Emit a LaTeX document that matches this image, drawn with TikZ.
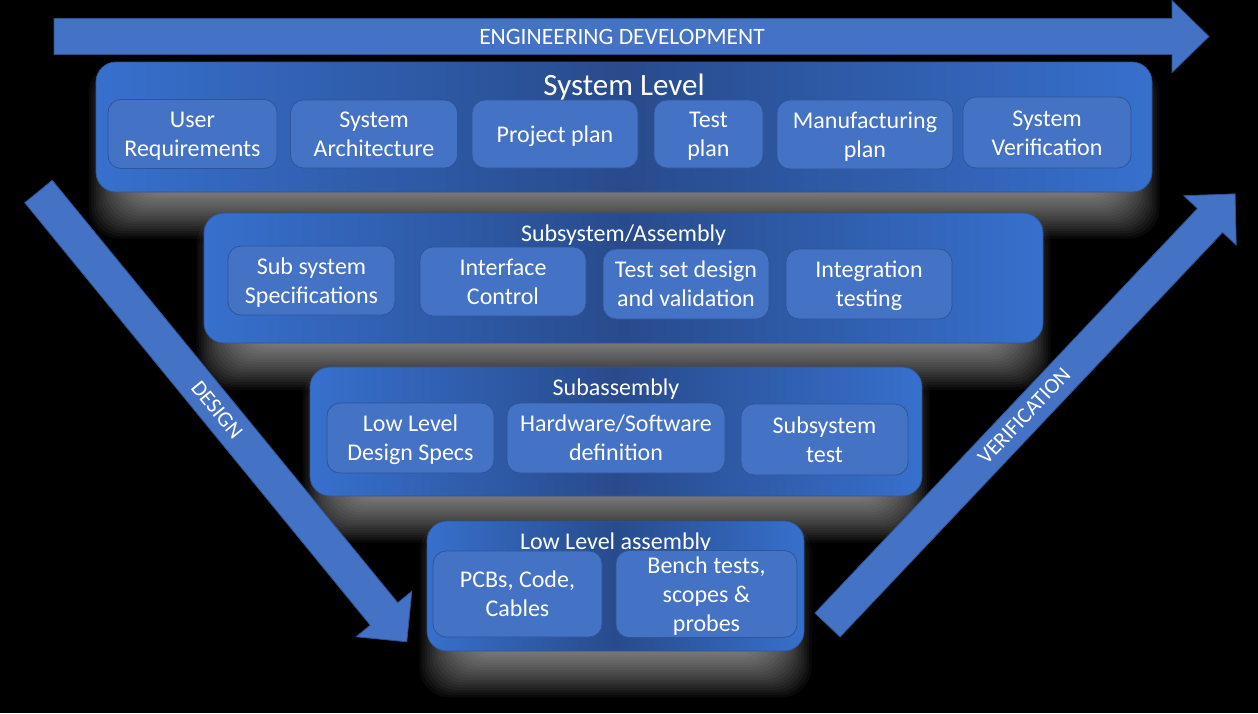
\documentclass[tikz,border=0pt]{standalone}
\usepackage{fontspec}
\setmainfont{Carlito}
\definecolor{arrowblue}{HTML}{4472C4}
\definecolor{arrowedge}{HTML}{2F528F}
\definecolor{paneledge}{HTML}{3770CD}
\definecolor{panelmid}{HTML}{284B8C}
\definecolor{boxfill}{HTML}{4472C4}
\definecolor{boxedge}{HTML}{2F5597}
\tikzset{
  panel/.style={rectangle, rounded corners=20pt, draw=boxedge, line width=0.8pt,
    left color=paneledge, right color=paneledge, middle color=panelmid, inner sep=0pt},
  itembox/.style={rectangle, rounded corners=13pt, draw=boxedge, line width=0.8pt,
    fill=boxfill, text=white, inner sep=0pt,
    font=\fontsize{24}{29}\selectfont},
  paneltitle/.style={text=white, anchor=base, inner sep=0pt},
  bigarrow/.style={fill=arrowblue, draw=arrowedge, line width=0.8pt, line join=miter},
  arrowlabel/.style={text=white, inner sep=0pt, font=\fontsize{22}{26}\selectfont},
  glowlayer/.style={fill=white, fill opacity=0.036, rounded corners=30pt},
}
\newcommand\itemtext[1]{\raisebox{-2.5pt}[\height][\depth]{\begin{tabular}{@{}c@{}}#1\end{tabular}}}
\newcommand\panelglow[4]{%
  \foreach \k in {0,...,19}{%
    \fill[glowlayer] (#1+40-2.5*\k, #2+49-2.5*\k) rectangle (#3-40+2.5*\k, #4-1+2.5*\k);
  }}
\begin{document}
\begin{tikzpicture}[x=1pt, y=-1pt]
\useasboundingbox (0,0) rectangle (1258,713);
\fill[black] (0,0) rectangle (1258,713);

% glow behind panels
\panelglow{96}{62}{1152}{192}
\panelglow{204}{213}{1043}{343}
\panelglow{310}{367}{922}{496}
\panelglow{427}{521}{804}{651}

% top arrow
\draw[bigarrow] (54,18.5) -- (1172,18.5) -- (1172,0.5) -- (1209,36.5) -- (1172,72.5)
  -- (1172,54.5) -- (54,54.5) -- cycle;
\node[arrowlabel, font=\fontsize{23.5}{27}\selectfont, anchor=base] (engdev) at (622,44.5) {ENGINEERING DEVELOPMENT};

% panels
\node[panel, minimum width=1056pt, minimum height=130pt] (sys) at (624,127) {};
\node[panel, minimum width=839pt, minimum height=130pt] (sub) at (623.5,278) {};
\node[panel, minimum width=612pt, minimum height=129pt] (suba) at (616,431.5) {};
\node[panel, minimum width=377pt, minimum height=130pt] (low) at (615.5,586) {};

% titles
\node[paneltitle, font=\fontsize{31}{36}\selectfont] (systitle) at (624,95) {System Level};
\node[paneltitle, font=\fontsize{24}{29}\selectfont] (subtitle) at (623.5,241) {Subsystem/Assembly};
\node[paneltitle, font=\fontsize{24}{29}\selectfont] (subatitle) at (616,395) {Subassembly};
\node[paneltitle, font=\fontsize{24}{29}\selectfont] (lowtitle) at (615.5,549) {Low Level assembly};

% system level items
\node[itembox, minimum width=169pt, minimum height=69pt] (ur) at (192.5,134) {\itemtext{User\\Requirements}};
\node[itembox, minimum width=167pt, minimum height=68pt] (sa) at (374,134) {\itemtext{System\\Architecture}};
\node[itembox, minimum width=166pt, minimum height=68pt] (pp) at (555,134) {\itemtext{Project plan}};
\node[itembox, minimum width=109pt, minimum height=68pt] (tp) at (708.5,134) {\itemtext{Test\\plan}};
\node[itembox, minimum width=176pt, minimum height=69pt] (mp) at (865,134.5) {\itemtext{Manufacturing\\plan}};
\node[itembox, minimum width=168pt, minimum height=71pt] (sv) at (1047,132.5) {\itemtext{System\\Verification}};

% subsystem items
\node[itembox, minimum width=167pt, minimum height=69pt] (ss) at (311.5,280.5) {\itemtext{Sub system\\Specifications}};
\node[itembox, minimum width=166pt, minimum height=69pt] (ic) at (503,281.5) {\itemtext{Interface\\Control}};
\node[itembox, minimum width=166pt, minimum height=70pt] (ts) at (686,284) {\itemtext{Test set design\\and validation}};
\node[itembox, minimum width=166pt, minimum height=70pt] (it) at (869,284) {\itemtext{Integration\\testing}};

% subassembly items
\node[itembox, minimum width=167pt, minimum height=70pt] (ll) at (410.5,438) {\itemtext{Low Level\\Design Specs}};
\node[itembox, minimum width=218pt, minimum height=70pt] (hw) at (616,438) {\itemtext{Hardware/Software\\definition}};
\node[itembox, minimum width=167pt, minimum height=71pt] (st) at (824.5,439.5) {\itemtext{Subsystem\\test}};

% low level items
\node[itembox, minimum width=169pt, minimum height=86pt] (pcb) at (517.5,594) {\itemtext{PCBs, Code,\\Cables}};
\node[itembox, minimum width=181pt, minimum height=86pt] (bt) at (706.5,594) {\itemtext{Bench tests,\\scopes \&\\probes}};

% design arrow
\draw[bigarrow] (52.24,180.26) -- (397.73,602.71) -- (411.85,591.16) -- (406.78,641.81)
  -- (356.13,636.74) -- (370.25,625.19) -- (24.76,202.74) -- cycle;
\node[arrowlabel, rotate=-50.73] (design) at (217,410) {DESIGN};

% verification arrow
\draw[bigarrow] (840.1,636.9) -- (1222.6,232.4) -- (1236.2,245.1) -- (1235.1,193.9)
  -- (1183.8,195.7) -- (1197.4,208.5) -- (814.9,613.1) -- cycle;
\node[arrowlabel, rotate=46.6] (verif) at (1024,416) {VERIFICATION};
\end{tikzpicture}
\end{document}
